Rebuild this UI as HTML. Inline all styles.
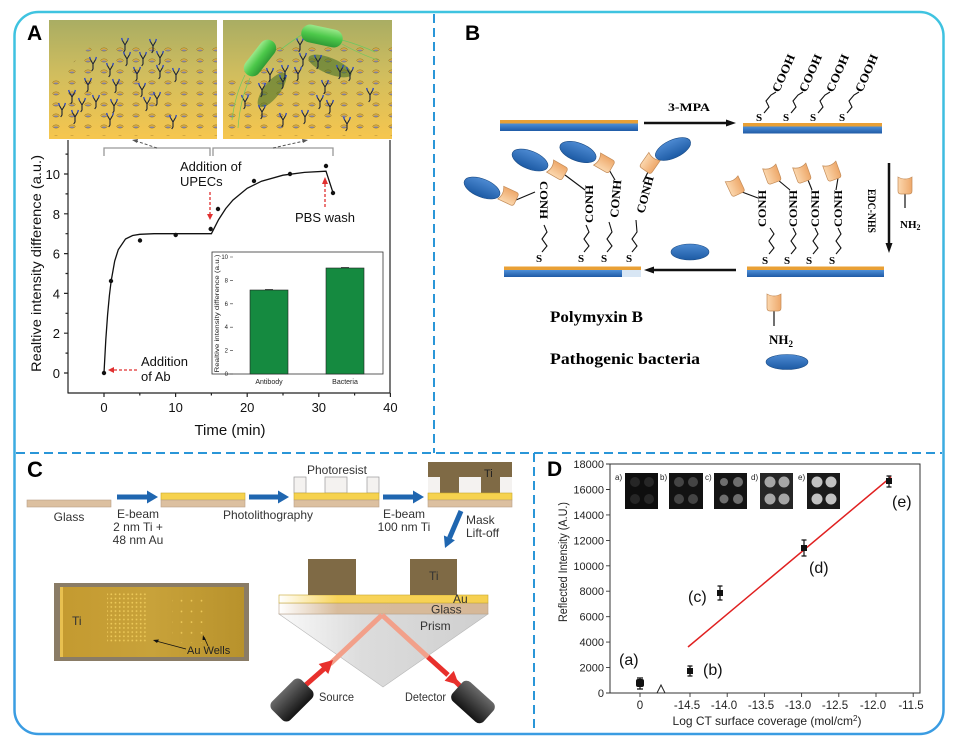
<!DOCTYPE html>
<html><head><meta charset="utf-8">
<style>
html,body{margin:0;padding:0;background:#fff;}
svg{display:block;}
text{font-family:"Liberation Sans",Arial,sans-serif;}
.sf, .sf text{font-family:"Liberation Serif","Times New Roman",serif;font-weight:bold;}
</style></head><body>
<svg width="955" height="744" viewBox="0 0 955 744" xmlns="http://www.w3.org/2000/svg">
<defs>
 <linearGradient id="fr" x1="0" y1="0" x2="0" y2="744" gradientUnits="userSpaceOnUse">
  <stop offset="0" stop-color="#3fc4e0"/><stop offset="1" stop-color="#3a9be2"/>
 </linearGradient>
 <linearGradient id="imgbg" x1="0" y1="0" x2="0" y2="1">
  <stop offset="0" stop-color="#a9ad63"/><stop offset="0.45" stop-color="#d0bd5e"/><stop offset="1" stop-color="#f6c64e"/>
 </linearGradient>
 <pattern id="dots" width="16" height="11" patternUnits="userSpaceOnUse">
  <ellipse cx="8" cy="5.5" rx="3.2" ry="1.6" fill="#e6b53e" stroke="#6a5020" stroke-width="0.4"/>
  <ellipse cx="8" cy="6.2" rx="2.1" ry="0.7" fill="#7a80b0"/>
 </pattern>
 <g id="ab">
  <path d="M0,0 L0,5 L-1.3,7 M0,0 L-2.6,-4.5 M0,0 L2.6,-4.5" stroke="#1b2238" stroke-width="1.1" fill="none"/>
  <path d="M-2.6,-4.5 L-3.4,-7 M2.6,-4.5 L3.4,-7" stroke="#2a46c8" stroke-width="1.3" fill="none"/>
 </g>
 <linearGradient id="grn" x1="0" y1="0" x2="0" y2="1">
  <stop offset="0" stop-color="#9ae88a"/><stop offset="0.5" stop-color="#4cc84a"/><stop offset="1" stop-color="#2e9a34"/>
 </linearGradient>
 <linearGradient id="blu" x1="0" y1="0" x2="0" y2="1">
  <stop offset="0" stop-color="#4e90d8"/><stop offset="1" stop-color="#1f5aa6"/>
 </linearGradient>
 <linearGradient id="bac" x1="0" y1="0" x2="0" y2="1">
  <stop offset="0" stop-color="#4d8ad2"/><stop offset="1" stop-color="#1c5aa4"/>
 </linearGradient>
 <linearGradient id="cupg" x1="0" y1="0" x2="1" y2="0">
  <stop offset="0" stop-color="#fbd7ae"/><stop offset="1" stop-color="#eea86a"/>
 </linearGradient>
 <g id="cup">
  <path d="M-7,-8 Q0,-4 7,-8 L7,6 Q7,9 4,9 L-4,9 Q-7,9 -7,6 Z" fill="url(#cupg)" stroke="#c48c58" stroke-width="0.7"/>
 </g>
 <linearGradient id="auG" x1="0" y1="0" x2="1" y2="0">
  <stop offset="0" stop-color="#ffffff"/><stop offset="0.28" stop-color="#f8d45a"/><stop offset="1" stop-color="#f6d050"/>
 </linearGradient>
 <linearGradient id="glG" x1="0" y1="0" x2="1" y2="0">
  <stop offset="0" stop-color="#ffffff"/><stop offset="0.28" stop-color="#d8bc9c"/><stop offset="1" stop-color="#d6b898"/>
 </linearGradient>
 <linearGradient id="prG" x1="0" y1="0" x2="1" y2="0">
  <stop offset="0" stop-color="#fafafa"/><stop offset="0.4" stop-color="#dcdcdc"/><stop offset="1" stop-color="#cfcfcf"/>
 </linearGradient>
 <linearGradient id="cam" x1="0" y1="0" x2="0" y2="1">
  <stop offset="0" stop-color="#6a6a6a"/><stop offset="1" stop-color="#141414"/>
 </linearGradient>
 <linearGradient id="photo" x1="0" y1="0" x2="1" y2="0">
  <stop offset="0" stop-color="#c49a30"/><stop offset="0.5" stop-color="#c8a23a"/><stop offset="1" stop-color="#b8922c"/>
 </linearGradient>
 <pattern id="wd" width="4.2" height="4.2" patternUnits="userSpaceOnUse">
  <circle cx="2.1" cy="2.1" r="0.9" fill="#ecc858"/>
 </pattern>
 <pattern id="ws" width="10" height="10.7" patternUnits="userSpaceOnUse">
  <circle cx="1.5" cy="1.5" r="0.9" fill="#ecc858"/>
 </pattern>
</defs>

<!-- frame -->
<rect x="14.5" y="12" width="929" height="722" rx="24" fill="#fff" stroke="url(#fr)" stroke-width="2.5"/>
<g stroke="#2a96d8" stroke-width="2" stroke-dasharray="9 5" fill="none">
 <line x1="434" y1="14" x2="434" y2="453"/>
 <line x1="16" y1="453" x2="942" y2="453"/>
 <line x1="534" y1="453" x2="534" y2="732"/>
</g>

<!-- ================= PANEL A ================= -->
<text x="27" y="40" font-size="21" font-weight="bold">A</text>
<rect x="49" y="20" width="168" height="119" fill="url(#imgbg)"/>
<rect x="223" y="20" width="169" height="119" fill="url(#imgbg)"/>
<polygon points="95,42 217,42 217,136 49,136 49,85" fill="url(#dots)"/>
<polygon points="268,42 392,42 392,136 223,136 223,85" fill="url(#dots)"/>
<g>
 <use href="#ab" x="125" y="45"/><use href="#ab" x="153" y="46"/><use href="#ab" x="127" y="59"/><use href="#ab" x="143" y="59"/>
 <use href="#ab" x="160" y="58"/><use href="#ab" x="93" y="64"/><use href="#ab" x="110" y="70"/><use href="#ab" x="137" y="74"/>
 <use href="#ab" x="160" y="72"/><use href="#ab" x="176" y="75"/><use href="#ab" x="88" y="85"/><use href="#ab" x="116" y="86"/>
 <use href="#ab" x="142" y="90"/><use href="#ab" x="72" y="97"/><use href="#ab" x="82" y="105"/><use href="#ab" x="96" y="102"/>
 <use href="#ab" x="114" y="106"/><use href="#ab" x="147" y="104"/><use href="#ab" x="157" y="99"/><use href="#ab" x="75" y="117"/>
 <use href="#ab" x="110" y="120"/><use href="#ab" x="173" y="122"/><use href="#ab" x="62" y="110"/>
</g>
<g>
 <ellipse cx="272" cy="90" rx="21" ry="8" transform="rotate(-52 272 90)" fill="#3a6a22" opacity="0.55"/>
 <ellipse cx="330" cy="66" rx="23" ry="8" transform="rotate(22 330 66)" fill="#3a6a22" opacity="0.55"/>
 <use href="#ab" x="300" y="45"/><use href="#ab" x="303" y="60"/><use href="#ab" x="318" y="62"/><use href="#ab" x="285" y="72"/>
 <use href="#ab" x="298" y="74"/><use href="#ab" x="340" y="72"/><use href="#ab" x="350" y="74"/><use href="#ab" x="262" y="90"/>
 <use href="#ab" x="283" y="82"/><use href="#ab" x="325" y="87"/><use href="#ab" x="320" y="102"/><use href="#ab" x="245" y="102"/>
 <use href="#ab" x="262" y="112"/><use href="#ab" x="305" y="117"/><use href="#ab" x="283" y="120"/><use href="#ab" x="347" y="124"/>
 <use href="#ab" x="330" y="107"/><use href="#ab" x="370" y="95"/><use href="#ab" x="270" y="75"/>
 <path d="M245,75 Q235,95 232,120 M250,78 Q240,100 238,128 M280,50 Q300,35 310,30 M342,40 Q360,45 375,52 M342,44 Q362,55 378,60" stroke="#6cc860" stroke-width="0.7" fill="none"/>
 <g transform="translate(260,58) rotate(-52)"><rect x="-21" y="-8.5" width="42" height="17" rx="8.5" fill="url(#grn)"/></g>
 <g transform="translate(322,36) rotate(12)"><rect x="-21" y="-9" width="42" height="18" rx="9" fill="url(#grn)"/></g>
</g>
<g stroke="#999" stroke-width="1.3" fill="none">
 <polyline points="104,156 104,148 210,148 210,156"/>
 <polyline points="213,156 213,148 333,148 333,156"/>
</g>
<g stroke="#555" stroke-width="1" stroke-dasharray="3 2" fill="none">
 <line x1="157" y1="148" x2="136" y2="141"/>
 <line x1="273" y1="148" x2="304" y2="141"/>
</g>
<polygon points="132,140 138,139 137,143" fill="#555"/>
<polygon points="308,140 302,139 303,143" fill="#555"/>
<g stroke="#222" stroke-width="1.2" fill="none">
 <line x1="68" y1="140" x2="68" y2="393.5"/>
 <line x1="68" y1="393" x2="390.5" y2="393"/>
 <line x1="390" y1="140" x2="390" y2="393"/>
 <path d="M64,373 H68 M64,333.2 H68 M64,293.4 H68 M64,253.6 H68 M64,213.8 H68 M64,174 H68"/>
 <path d="M65.5,353.1 H68 M65.5,313.3 H68 M65.5,273.5 H68 M65.5,233.7 H68 M65.5,193.9 H68 M65.5,154.1 H68"/>
 <path d="M104,393 V397 M175.6,393 V397 M247.2,393 V397 M318.8,393 V397 M390.4,393 V397"/>
 <path d="M139.8,393 V395.5 M211.4,393 V395.5 M283,393 V395.5 M354.6,393 V395.5"/>
</g>
<g font-size="13" text-anchor="end" fill="#111">
 <text x="60" y="378">0</text><text x="60" y="338">2</text><text x="60" y="298.4">4</text>
 <text x="60" y="258.6">6</text><text x="60" y="218.8">8</text><text x="60" y="179">10</text>
</g>
<g font-size="13" text-anchor="middle" fill="#111">
 <text x="104" y="412">0</text><text x="175.6" y="412">10</text><text x="247.2" y="412">20</text>
 <text x="318.8" y="412">30</text><text x="390.4" y="412">40</text>
</g>
<text transform="translate(41,263.5) rotate(-90)" font-size="14" text-anchor="middle" textLength="217" lengthAdjust="spacingAndGlyphs" fill="#111">Realtive intensity difference (a.u.)</text>
<text x="230" y="435" font-size="15" text-anchor="middle" fill="#111">Time (min)</text>
<path d="M104,373 L105.8,339.8 L107.6,314.7 L109.4,295.4 L111.2,280.7 L114.7,261 L118.3,249.6 L125.5,239 L132.6,235.5 L139.8,234.3 L154.1,233.7 L211.4,233.7 L218.6,219.6 L225.7,208.6 L232.9,200.1 L247.2,188.3 L261.5,181.2 L283,175.2 L304.5,172.4 L326,171.2 L333.1,192.9" fill="none" stroke="#111" stroke-width="1.3"/>
<g fill="#111">
 <circle cx="104" cy="373" r="2.2"/><circle cx="111" cy="281" r="2.2"/><circle cx="140" cy="240.5" r="2.2"/>
 <circle cx="175.7" cy="235" r="2.2"/><circle cx="210.7" cy="229" r="2.2"/><circle cx="218" cy="209" r="2.2"/>
 <circle cx="254" cy="181" r="2.2"/><circle cx="290" cy="174" r="2.2"/><circle cx="326" cy="166" r="2.2"/>
 <circle cx="333" cy="193" r="2.2"/>
</g>
<g font-size="13" fill="#111">
 <text x="180" y="171">Addition of</text><text x="180" y="186">UPECs</text>
 <text x="295" y="222">PBS wash</text>
 <text x="141" y="366">Addition</text><text x="141" y="381">of Ab</text>
</g>
<g stroke="#e03030" stroke-width="1.3" stroke-dasharray="3 2" fill="none">
 <line x1="210" y1="192" x2="210" y2="215"/>
 <line x1="325" y1="207" x2="325" y2="183"/>
 <line x1="137" y1="370" x2="113" y2="370"/>
</g>
<g fill="#e03030">
 <polygon points="207,214 213,214 210,220"/>
 <polygon points="322,184 328,184 325,177"/>
 <polygon points="114,367 114,373 108,370"/>
</g>
<rect x="212" y="252" width="171" height="122" fill="#fff" stroke="#333" stroke-width="0.8"/>
<g stroke="#333" stroke-width="0.6">
 <path d="M230,374 H233 M230,350.6 H233 M230,327.2 H233 M230,303.8 H233 M230,280.4 H233 M230,257 H233"/>
</g>
<g font-size="6" text-anchor="end" fill="#222">
 <text x="228" y="376">0</text><text x="228" y="352.6">2</text><text x="228" y="329.2">4</text>
 <text x="228" y="305.8">6</text><text x="228" y="282.4">8</text><text x="228" y="259">10</text>
</g>
<text transform="translate(219,313.5) rotate(-90)" font-size="6" text-anchor="middle" textLength="118" lengthAdjust="spacingAndGlyphs" fill="#222">Realtive intensity difference (a.u.)</text>
<rect x="250" y="290" width="38" height="84" fill="#158a40" stroke="#222" stroke-width="0.6"/>
<rect x="326" y="268" width="38" height="106" fill="#158a40" stroke="#222" stroke-width="0.6"/>
<path d="M265,289.5 H273 M341,267.5 H349" stroke="#222" stroke-width="0.8"/>
<g font-size="7" text-anchor="middle" fill="#222">
 <text x="269" y="384">Antibody</text><text x="345" y="384">Bacteria</text>
</g>

<!-- ================= PANEL B ================= -->
<text x="465" y="40" font-size="21" font-weight="bold">B</text>
<rect x="500" y="120" width="138" height="3.5" fill="#e9a035"/>
<rect x="500" y="123.5" width="138" height="7.5" fill="url(#blu)"/>
<rect x="743" y="123" width="139" height="3.5" fill="#e9a035"/>
<rect x="743" y="126.5" width="139" height="7" fill="url(#blu)"/>
<rect x="747" y="266.5" width="137" height="3.5" fill="#e9a035"/>
<rect x="747" y="270" width="137" height="7" fill="url(#blu)"/>
<rect x="504" y="266.5" width="137" height="3.5" fill="#e9a035"/>
<rect x="504" y="270" width="118" height="7" fill="url(#blu)"/>
<rect x="622" y="270" width="19" height="7" fill="#d8e6f4"/>
<g stroke="#111" stroke-width="2.5">
 <line x1="644" y1="123" x2="728" y2="123"/>
 <line x1="736" y1="270" x2="652" y2="270"/>
 <line x1="889" y1="163" x2="889" y2="244"/>
</g>
<g fill="#111">
 <polygon points="726,119.5 736,123 726,126.5"/>
 <polygon points="654,266.5 644,270 654,273.5"/>
 <polygon points="885.5,243 892.5,243 889,253"/>
</g>
<text x="689" y="111" class="sf" font-size="12" text-anchor="middle" textLength="42" lengthAdjust="spacingAndGlyphs">3-MPA</text>
<text transform="translate(868,211) rotate(90)" class="sf" font-size="12" text-anchor="middle" textLength="44" lengthAdjust="spacingAndGlyphs">EDC-NHS</text>
<g stroke="#111" stroke-width="1.1" fill="none">
 <path d="M764,113 L769,107 L766,101 L771,95 L776,92"/>
 <path d="M791,113 L796,107 L793,101 L798,95 L803,92"/>
 <path d="M818,113 L823,107 L820,101 L825,95 L830,92"/>
 <path d="M847,113 L852,107 L849,101 L854,95 L859,92"/>
</g>
<g class="sf" font-size="11">
 <text x="756" y="121">S</text><text x="783" y="121">S</text><text x="810" y="121">S</text><text x="839" y="121">S</text>
</g>
<g class="sf" font-size="12">
 <text transform="translate(779,93) rotate(-66)" textLength="40" lengthAdjust="spacingAndGlyphs">COOH</text>
 <text transform="translate(806,93) rotate(-66)" textLength="40" lengthAdjust="spacingAndGlyphs">COOH</text>
 <text transform="translate(833,93) rotate(-66)" textLength="40" lengthAdjust="spacingAndGlyphs">COOH</text>
 <text transform="translate(862,93) rotate(-66)" textLength="40" lengthAdjust="spacingAndGlyphs">COOH</text>
</g>
<g stroke="#111" stroke-width="1.1" fill="none">
 <path d="M769,254 L774,248 L769,241 L774,234 L770,228"/>
 <path d="M791,254 L796,248 L791,241 L796,234 L793,228"/>
 <path d="M813,254 L818,248 L813,241 L818,234 L815,228"/>
 <path d="M836,254 L841,248 L836,241 L841,234 L838,228"/>
 <path d="M742,192 L758,198"/>
 <path d="M778,180 L790,190"/>
 <path d="M808,180 L812,190"/>
 <path d="M838,178 L836,190"/>
</g>
<g class="sf" font-size="11">
 <text x="762" y="264">S</text><text x="784" y="264">S</text><text x="806" y="264">S</text><text x="829" y="264">S</text>
</g>
<g class="sf" font-size="12">
 <text transform="translate(766,227) rotate(-90)" textLength="37" lengthAdjust="spacingAndGlyphs">CONH</text>
 <text transform="translate(797,227) rotate(-90)" textLength="37" lengthAdjust="spacingAndGlyphs">CONH</text>
 <text transform="translate(819,227) rotate(-90)" textLength="37" lengthAdjust="spacingAndGlyphs">CONH</text>
 <text transform="translate(842,227) rotate(-90)" textLength="37" lengthAdjust="spacingAndGlyphs">CONH</text>
</g>
<use href="#cup" transform="translate(735,186) rotate(-25)"/>
<use href="#cup" transform="translate(772,174) rotate(-20)"/>
<use href="#cup" transform="translate(802,173) rotate(-20)"/>
<use href="#cup" transform="translate(832,171) rotate(-20)"/>
<line x1="905" y1="193" x2="905" y2="208" stroke="#111" stroke-width="1.2"/>
<use href="#cup" transform="translate(905,185)"/>
<text x="900" y="228" class="sf" font-size="11">NH<tspan font-size="8" dy="2">2</tspan></text>
<g stroke="#111" stroke-width="1.1" fill="none">
 <path d="M542,252 L547,246 L542,239 L547,232 L544,225"/>
 <path d="M584,252 L589,246 L584,239 L589,232 L586,225"/>
 <path d="M607,252 L612,246 L607,239 L612,232 L609,222"/>
 <path d="M632,252 L637,246 L632,239 L637,232 L636,220"/>
 <path d="M516,200 L535,192"/>
 <path d="M565,175 L585,190"/>
 <path d="M608,168 L615,180"/>
 <path d="M649,170 L643,182"/>
</g>
<g class="sf" font-size="11">
 <text x="536" y="262">S</text><text x="578" y="262">S</text><text x="601" y="262">S</text><text x="626" y="262">S</text>
</g>
<g class="sf" font-size="12">
 <text transform="translate(540,181) rotate(90)" textLength="38" lengthAdjust="spacingAndGlyphs">CONH</text>
 <text transform="translate(593,223) rotate(-90)" textLength="38" lengthAdjust="spacingAndGlyphs">CONH</text>
 <text transform="translate(618,218) rotate(-85)" textLength="38" lengthAdjust="spacingAndGlyphs">CONH</text>
 <text transform="translate(644,214) rotate(-75)" textLength="38" lengthAdjust="spacingAndGlyphs">CONH</text>
</g>
<use href="#cup" transform="translate(508,196) rotate(-65)"/>
<use href="#cup" transform="translate(557,170) rotate(-60)"/>
<use href="#cup" transform="translate(604,163) rotate(-60)"/>
<use href="#cup" transform="translate(650,163) rotate(35)"/>
<g fill="url(#bac)" stroke="#1b4c86" stroke-width="0.6">
 <ellipse cx="482" cy="188" rx="19" ry="9" transform="rotate(22 482 188)"/>
 <ellipse cx="530" cy="160" rx="19" ry="9" transform="rotate(22 530 160)"/>
 <ellipse cx="578" cy="152" rx="19" ry="9" transform="rotate(20 578 152)"/>
 <ellipse cx="673" cy="149" rx="19" ry="9" transform="rotate(-25 673 149)"/>
 <ellipse cx="690" cy="252" rx="19" ry="8"/>
 <ellipse cx="787" cy="362" rx="21" ry="7.5"/>
</g>
<line x1="774" y1="310" x2="774" y2="326" stroke="#111" stroke-width="1.2"/>
<use href="#cup" transform="translate(774,302)"/>
<text x="769" y="344" class="sf" font-size="13">NH<tspan font-size="9" dy="3">2</tspan></text>
<text x="550" y="322" class="sf" font-size="16" textLength="93" lengthAdjust="spacingAndGlyphs">Polymyxin B</text>
<text x="550" y="364" class="sf" font-size="16" textLength="150" lengthAdjust="spacingAndGlyphs">Pathogenic bacteria</text>

<!-- ================= PANEL C ================= -->
<text x="27" y="477" font-size="22" font-weight="bold">C</text>
<rect x="27" y="500" width="84" height="7" fill="#dcc0a0" stroke="#b8a088" stroke-width="0.6"/>
<rect x="161" y="493" width="84" height="7" fill="#f6d24e" stroke="#c8a830" stroke-width="0.6"/>
<rect x="161" y="500" width="84" height="7" fill="#dcc0a0" stroke="#b8a088" stroke-width="0.6"/>
<g fill="#f4f2f0" stroke="#999" stroke-width="0.7">
 <rect x="294" y="477" width="12" height="16"/><rect x="325" y="477" width="22" height="16"/><rect x="367" y="477" width="12" height="16"/>
</g>
<rect x="294" y="493" width="85" height="7" fill="#f6d24e" stroke="#c8a830" stroke-width="0.6"/>
<rect x="294" y="500" width="85" height="7" fill="#dcc0a0" stroke="#b8a088" stroke-width="0.6"/>
<rect x="428" y="462" width="84" height="31" fill="#7f6a45"/>
<g fill="#f4f2f0">
 <rect x="428" y="477" width="12" height="16"/><rect x="459" y="477" width="22" height="16"/><rect x="500" y="477" width="12" height="16"/>
</g>
<rect x="428" y="493" width="84" height="7" fill="#f6d24e" stroke="#c8a830" stroke-width="0.6"/>
<rect x="428" y="500" width="84" height="7" fill="#dcc0a0" stroke="#b8a088" stroke-width="0.6"/>
<text x="484" y="477" font-size="11" fill="#222">Ti</text>
<g fill="#1f66b0">
 <rect x="117" y="494.5" width="31" height="5"/><polygon points="147,490.5 158,497 147,503.5"/>
 <rect x="249" y="494.5" width="30" height="5"/><polygon points="278,490.5 289,497 278,503.5"/>
 <rect x="383" y="494.5" width="31" height="5"/><polygon points="413,490.5 424,497 413,503.5"/>
 <polygon points="454.9,540.3 445,548 443.9,535.5"/>
</g>
<line x1="461" y1="511" x2="449.5" y2="538" stroke="#1f66b0" stroke-width="5"/>
<g font-size="12" fill="#333" text-anchor="middle">
 <text x="69" y="521">Glass</text>
 <text x="138" y="518">E-beam</text><text x="138" y="531">2 nm Ti +</text><text x="138" y="544">48 nm Au</text>
 <text x="268" y="519">Photolithography</text>
 <text x="337" y="474">Photoresist</text>
 <text x="404" y="518">E-beam</text><text x="404" y="531">100 nm Ti</text>
</g>
<g font-size="12" fill="#333">
 <text x="466" y="524">Mask</text><text x="466" y="537">Lift-off</text>
</g>
<rect x="54" y="583" width="195" height="78" fill="#8a7c66"/>
<rect x="60" y="587" width="184" height="70" fill="url(#photo)"/>
<rect x="60" y="587" width="3" height="70" fill="#e8c050"/>
<rect x="107" y="592" width="40" height="51" fill="url(#wd)"/>
<rect x="172" y="595" width="32" height="48" fill="url(#ws)"/>
<text x="72" y="625" font-size="12" fill="#333">Ti</text>
<text x="187" y="654" font-size="11" fill="#222">Au Wells</text>
<g stroke="#111" stroke-width="0.8">
 <line x1="186" y1="649" x2="156" y2="641"/>
 <line x1="208" y1="646" x2="204" y2="637"/>
</g>
<polygon points="153,640 159,639.5 157,643" fill="#111"/>
<polygon points="203,635 206,640 202.5,640" fill="#111"/>
<polygon points="279,614 488,614 383,687" fill="url(#prG)" stroke="#b8b8b8" stroke-width="0.6"/>
<rect x="279" y="603" width="209" height="11" fill="url(#glG)" stroke="#b8a088" stroke-width="0.6"/>
<rect x="279" y="595" width="209" height="8" fill="url(#auG)" stroke="#c8a830" stroke-width="0.6"/>
<rect x="308" y="559" width="48" height="36" fill="#7f6a45"/>
<rect x="410" y="559" width="47" height="36" fill="#7f6a45"/>
<g stroke="#f2a08a" stroke-width="5" fill="none">
 <line x1="330" y1="664" x2="382" y2="615"/>
 <line x1="382" y1="615" x2="429" y2="658"/>
</g>
<g stroke="#e8302c" stroke-width="5">
 <line x1="300" y1="690" x2="325" y2="668"/>
 <line x1="428" y1="657" x2="448" y2="675"/>
 <line x1="455" y1="681" x2="466" y2="692"/>
</g>
<g fill="#e8302c">
 <polygon points="333,660 328.3,674 318.7,664"/>
 <polygon points="459,685 444.6,680.7 453.8,670.9"/>
</g>
<g transform="translate(292,700) rotate(-45)"><rect x="-21" y="-13" width="42" height="26" rx="6" fill="url(#cam)"/></g>
<g transform="translate(473,702) rotate(42)"><rect x="-21" y="-13" width="42" height="26" rx="6" fill="url(#cam)"/></g>
<g font-size="12" fill="#333">
 <text x="429" y="580">Ti</text>
 <text x="453" y="603">Au</text>
 <text x="431" y="613.5">Glass</text>
 <text x="420" y="630">Prism</text>
 <text x="319" y="701" textLength="35" lengthAdjust="spacingAndGlyphs">Source</text>
 <text x="405" y="701" textLength="41" lengthAdjust="spacingAndGlyphs">Detector</text>
</g>

<!-- ================= PANEL D ================= -->
<text x="547" y="476" font-size="21" font-weight="bold">D</text>
<rect x="610" y="464" width="310" height="229" fill="none" stroke="#333" stroke-width="1"/>
<g stroke="#333" stroke-width="0.9">
 <path d="M606,693 H610 M606,667.6 H610 M606,642.1 H610 M606,616.7 H610 M606,591.2 H610 M606,565.8 H610 M606,540.4 H610 M606,514.9 H610 M606,489.5 H610 M606,464 H610"/>
 <path d="M640,693 V697 M690,693 V697 M727.2,693 V697 M764.4,693 V697 M801.6,693 V697 M838.8,693 V697 M876,693 V697 M913.2,693 V697"/>
</g>
<polyline points="657,693 661,685 665,693" fill="none" stroke="#222" stroke-width="1"/>
<g font-size="11" text-anchor="end" fill="#222">
 <text x="604" y="697">0</text><text x="604" y="671.6">2000</text><text x="604" y="646.1">4000</text>
 <text x="604" y="620.7">6000</text><text x="604" y="595.2">8000</text><text x="604" y="569.8">10000</text>
 <text x="604" y="544.4">12000</text><text x="604" y="518.9">14000</text><text x="604" y="493.5">16000</text>
 <text x="604" y="468">18000</text>
</g>
<g font-size="11.5" text-anchor="middle" fill="#222">
 <text x="640" y="709">0</text><text x="687" y="709">-14.5</text><text x="724" y="709">-14.0</text>
 <text x="761" y="709">-13.5</text><text x="798" y="709">-13.0</text><text x="835" y="709">-12.5</text>
 <text x="873" y="709">-12.0</text><text x="911" y="709">-11.5</text>
</g>
<text transform="translate(567,562) rotate(-90)" font-size="11.5" text-anchor="middle" textLength="120" lengthAdjust="spacingAndGlyphs" fill="#222">Reflected Intensity (A.U.)</text>
<text x="767" y="725" font-size="12" text-anchor="middle" fill="#222">Log CT surface coverage (mol/cm<tspan font-size="8" dy="-4">2</tspan><tspan dy="4">)</tspan></text>
<g>
 <rect x="625" y="473" width="33" height="36" fill="#0e0e0e"/>
 <g fill="#262626"><circle cx="635" cy="482" r="5"/><circle cx="649" cy="482" r="5"/><circle cx="635" cy="499" r="5"/><circle cx="649" cy="499" r="5"/></g>
 <rect x="669" y="473" width="34" height="36" fill="#121212"/>
 <g fill="#444"><circle cx="679" cy="482" r="5"/><circle cx="693" cy="482" r="5"/><circle cx="679" cy="499" r="5"/><circle cx="693" cy="499" r="5"/></g>
 <rect x="714" y="473" width="33" height="36" fill="#141414"/>
 <g fill="#6e6e6e"><circle cx="724" cy="482" r="4"/><circle cx="738" cy="482" r="5"/><circle cx="724" cy="499" r="4.5"/><circle cx="738" cy="499" r="5"/></g>
 <rect x="760" y="473" width="33" height="36" fill="#262626"/>
 <g fill="#a6a6a6"><circle cx="770" cy="482" r="5.5"/><circle cx="784" cy="482" r="5.5"/><circle cx="770" cy="499" r="5.5"/><circle cx="784" cy="499" r="5.5"/></g>
 <rect x="807" y="473" width="33" height="36" fill="#1a1a1a"/>
 <g fill="#c2c2c2"><circle cx="817" cy="482" r="5.5"/><circle cx="831" cy="482" r="5.5"/><circle cx="817" cy="499" r="5.5"/><circle cx="831" cy="499" r="5.5"/></g>
</g>
<g font-size="8" fill="#222">
 <text x="615" y="480">a)</text><text x="660" y="480">b)</text><text x="705" y="480">c)</text><text x="751" y="480">d)</text><text x="798" y="480">e)</text>
</g>
<line x1="688" y1="647" x2="891" y2="477" stroke="#e02020" stroke-width="1.5"/>
<g stroke="#111" stroke-width="1.2">
 <path d="M640,678 V689 M637,678 H643 M637,689 H643"/>
 <path d="M690,666 V676 M687.5,666 H692.5 M687.5,676 H692.5"/>
 <path d="M720,586 V600 M717.5,586 H722.5 M717.5,600 H722.5"/>
 <path d="M804,540 V556 M801.5,540 H806.5 M801.5,556 H806.5"/>
 <path d="M889,476 V487 M886.5,476 H891.5 M886.5,487 H891.5"/>
</g>
<g fill="#111">
 <rect x="636" y="679" width="8" height="8" rx="2"/>
 <rect x="687" y="668" width="6" height="6"/>
 <rect x="717" y="590" width="6" height="6"/>
 <rect x="801" y="545" width="6" height="6"/>
 <rect x="886" y="478" width="6" height="6"/>
</g>
<g font-size="16" fill="#111">
 <text x="619" y="665">(a)</text>
 <text x="703" y="675">(b)</text>
 <text x="688" y="602">(c)</text>
 <text x="809" y="573">(d)</text>
 <text x="892" y="507">(e)</text>
</g>
</svg>
</body></html>
